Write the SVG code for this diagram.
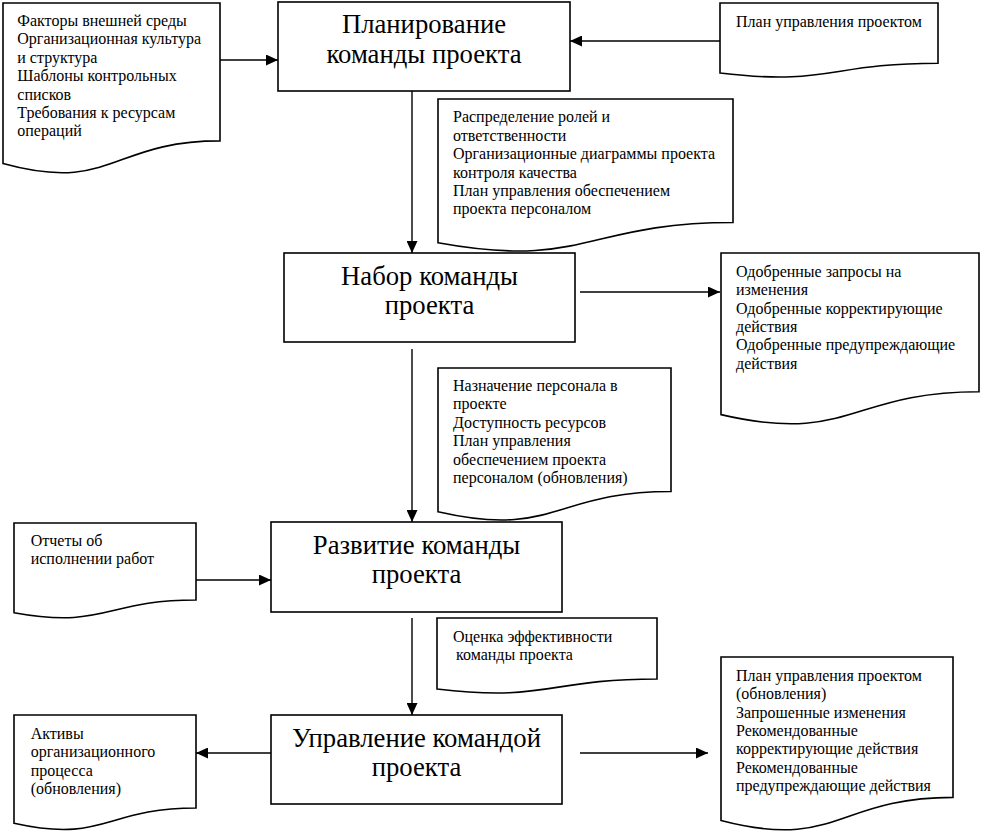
<svg xmlns="http://www.w3.org/2000/svg" width="981" height="832" viewBox="0 0 981 832" font-family="'Liberation Serif', 'DejaVu Serif', serif">
<defs>
<style>
.box{fill:#fff;stroke:#000;stroke-width:1.6}
.doc{fill:#fff;stroke:#000;stroke-width:1.6}
text{font-family:'Liberation Serif','DejaVu Serif',serif}
.big{font-size:26.7px;fill:#000;text-anchor:middle}
.sm{font-size:16px;fill:#000}
.con{fill:none;stroke:#000;stroke-width:1.4;marker-end:url(#ah)}
</style>
<marker id="ah" markerUnits="userSpaceOnUse" markerWidth="12" markerHeight="11" refX="12" refY="5.5" orient="auto">
<path d="M0,0 L12,5.5 L0,11 Z" fill="#000"/>
</marker>
</defs>
<rect width="981" height="832" fill="#fff"/>

<g id="connectors">
<line class="con" x1="220" y1="60" x2="278" y2="60"/>
<line class="con" x1="720" y1="41" x2="570" y2="41"/>
<line class="con" x1="412" y1="91" x2="412" y2="253"/>
<line class="con" x1="580" y1="292" x2="720" y2="292"/>
<line class="con" x1="412" y1="349" x2="412" y2="522"/>
<line class="con" x1="193" y1="580" x2="271" y2="580"/>
<line class="con" x1="412" y1="618" x2="412" y2="715"/>
<line class="con" x1="271" y1="753" x2="196" y2="753"/>
<line class="con" x1="580" y1="753" x2="708" y2="753"/>
</g>

<g id="n-plan">
<rect class="box" x="278" y="2" width="292" height="89"/>
<text class="big" x="424" y="33.3">Планирование</text>
<text class="big" x="424" y="62.7">команды проекта</text>
</g>

<g id="n-nabor">
<rect class="box" x="284" y="253" width="291" height="89"/>
<text class="big" x="429.5" y="285">Набор команды</text>
<text class="big" x="429.5" y="314">проекта</text>
</g>

<g id="n-razv">
<rect class="box" x="271" y="522" width="291" height="90"/>
<text class="big" x="416.5" y="554">Развитие команды</text>
<text class="big" x="416.5" y="583">проекта</text>
</g>

<g id="n-upr">
<rect class="box" x="271" y="715" width="291" height="89"/>
<text class="big" x="416.5" y="747">Управление командой</text>
<text class="big" x="416.5" y="776">проекта</text>
</g>

<g id="d-factors">
<path class="doc" d="M3,3 H220 V140.9 C111.5,140.9 111.5,193.5 3,163.6 Z"/>
<text class="sm" x="17.3" y="26">Факторы внешней среды</text>
<text class="sm" x="17.3" y="44.4">Организационная культура</text>
<text class="sm" x="17.3" y="62.8">и структура</text>
<text class="sm" x="17.3" y="81.2">Шаблоны контрольных</text>
<text class="sm" x="17.3" y="99.6">списков</text>
<text class="sm" x="17.3" y="118">Требования к ресурсам</text>
<text class="sm" x="17.3" y="136.4">операций</text>
</g>

<g id="d-planupr">
<path class="doc" d="M720,3 H938 V63.2 C829,63.2 829,86.1 720,73 Z"/>
<text class="sm" x="736" y="27">План управления проектом</text>
</g>

<g id="d-roles">
<path class="doc" d="M438,99 H733 V222.5 C585.5,222.5 585.5,269.6 438,242.8 Z"/>
<text class="sm" x="453" y="122.3">Распределение ролей и</text>
<text class="sm" x="453" y="140.7">ответственности</text>
<text class="sm" x="453" y="159.1">Организационные диаграммы проекта</text>
<text class="sm" x="453" y="177.5">контроля качества</text>
<text class="sm" x="453" y="195.9">План управления обеспечением</text>
<text class="sm" x="453" y="214.3">проекта персоналом</text>
</g>

<g id="d-approved">
<path class="doc" d="M721,253 H979 V391.7 C850,391.7 850,444.6 721,414.6 Z"/>
<text class="sm" x="736" y="276.7">Одобренные запросы на</text>
<text class="sm" x="736" y="295.1">изменения</text>
<text class="sm" x="736" y="313.5">Одобренные корректирующие</text>
<text class="sm" x="736" y="331.9">действия</text>
<text class="sm" x="736" y="350.3">Одобренные предупреждающие</text>
<text class="sm" x="736" y="368.7">действия</text>
</g>

<g id="d-assign">
<path class="doc" d="M438,368 H671 V491.5 C554.5,491.5 554.5,538.6 438,511.8 Z"/>
<text class="sm" x="453" y="391">Назначение персонала в</text>
<text class="sm" x="453" y="409.4">проекте</text>
<text class="sm" x="453" y="427.8">Доступность ресурсов</text>
<text class="sm" x="453" y="446.2">План управления</text>
<text class="sm" x="453" y="464.6">обеспечением проекта</text>
<text class="sm" x="453" y="483">персоналом (обновления)</text>
</g>

<g id="d-reports">
<path class="doc" d="M14,523 H196 V600 C105,600 105,629.3 14,612.7 Z"/>
<text class="sm" x="30.7" y="545.7">Отчеты об</text>
<text class="sm" x="30.7" y="564.1">исполнении работ</text>
</g>

<g id="d-eval">
<path class="doc" d="M437,618 H657 V679 C547,679 547,702.2 437,689 Z"/>
<text class="sm" x="453" y="641.7">Оценка эффективности</text>
<text class="sm" x="456" y="660.1">команды проекта</text>
</g>

<g id="d-updates">
<path class="doc" d="M721,657 H953 V797.4 C837,797.4 837,850.8 721,820.5 Z"/>
<text class="sm" x="736" y="680.7">План управления проектом</text>
<text class="sm" x="736" y="699.1">(обновления)</text>
<text class="sm" x="736" y="717.5">Запрошенные изменения</text>
<text class="sm" x="736" y="735.9">Рекомендованные</text>
<text class="sm" x="736" y="754.3">корректирующие действия</text>
<text class="sm" x="736" y="772.7">Рекомендованные</text>
<text class="sm" x="736" y="791.1">предупреждающие действия</text>
</g>

<g id="d-assets">
<path class="doc" d="M14,715 H196 V808 C105,808 105,843.5 14,823.3 Z"/>
<text class="sm" x="30.7" y="739">Активы</text>
<text class="sm" x="30.7" y="757.4">организационного</text>
<text class="sm" x="30.7" y="775.8">процесса</text>
<text class="sm" x="30.7" y="794.2">(обновления)</text>
</g>
</svg>
